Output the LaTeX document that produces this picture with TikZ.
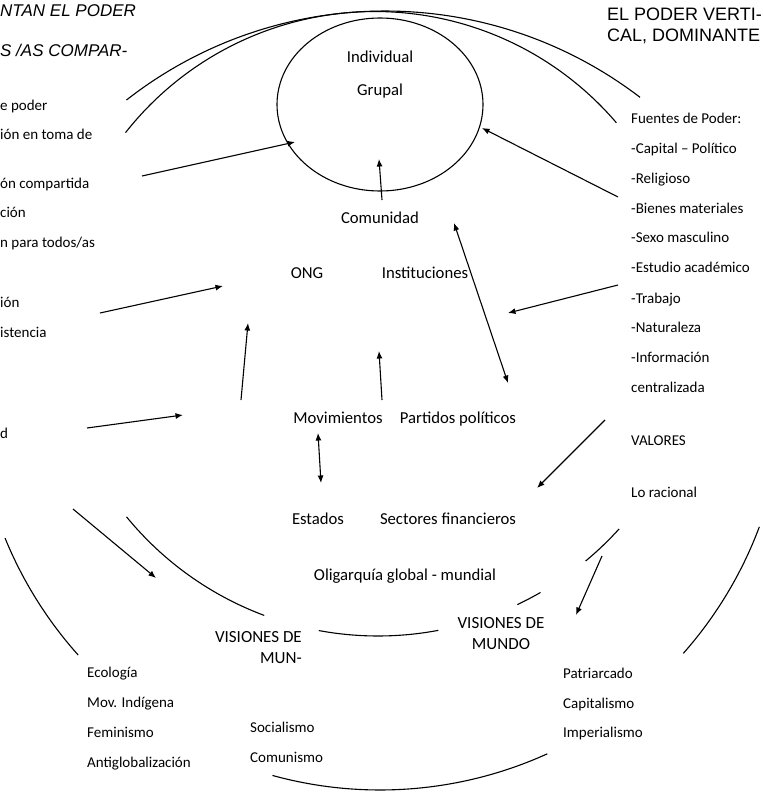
\documentclass[tikz,border=0pt]{standalone}
\usepackage{fontspec}
\setmainfont{Carlito}
\newfontfamily\titlefont{Liberation Sans}
\usetikzlibrary{arrows.meta,shapes.geometric}

\begin{document}
\begin{tikzpicture}[x=1pt,y=1pt,yscale=-1,
  txt/.style={font=\fontsize{16.7}{20}\selectfont,text height=11.7pt,text depth=0pt},
  lst/.style={font=\fontsize{15}{18}\selectfont,text height=10.5pt,text depth=0pt,anchor=west},
  vis/.style={font=\fontsize{17}{20}\selectfont,text height=11.6pt,text depth=0pt},
  ttl/.style={font=\titlefont\fontsize{18}{22}\selectfont,text height=12.9pt,text depth=0pt,anchor=west},
  ttli/.style={font=\titlefont\itshape\fontsize{17}{21}\selectfont,text height=12.2pt,text depth=0pt,anchor=west},
  arr/.style={-{Latex[length=7.5pt,width=6pt]},line width=1.1pt},
  darr/.style={{Latex[length=7.5pt,width=6pt]}-{Latex[length=7.5pt,width=6pt]},line width=1.1pt},
  arco/.style={line width=1.1pt}]
\tikzstyle{every node}+=[inner sep=0pt]
\useasboundingbox (0,0) rectangle (763,795);

\node[ttli] (titL1) at (0,10) {NTAN EL PODER};
\node[ttli] (titL2) at (0,50.5) {S /AS COMPAR-};
\node[ttl] (titR1) at (607,14) {EL PODER VERTI-};
\node[ttl] (titR2) at (607,35) {CAL, DOMINANTE};

\node[draw,ellipse,line width=1.1pt,minimum width=206pt,minimum height=173pt] (circulo) at (380,104.5) {};
\node[txt] (individual) at (380,57) {Individual};
\node[txt] (grupal) at (380,90) {Grupal};
\node[txt] (comunidad) at (380,218) {Comunidad};
\node[txt] (ong) at (307,273) {ONG};
\node[txt] (instituciones) at (425,273) {Instituciones};
\node[txt] (movimientos) at (338,418) {Movimientos};
\node[txt] (partidos) at (458,418) {Partidos políticos};
\node[txt] (estados) at (318,519) {Estados};
\node[txt] (sectores) at (448,519) {Sectores financieros};
\node[txt] (oligarquia) at (405,575) {Oligarquía global - mundial};
\node[vis,anchor=east] (visL1) at (302,637) {VISIONES DE};
\node[vis,anchor=east] (visL2) at (302,658) {MUN-};
\node[vis] (visR1) at (501,623) {VISIONES DE};
\node[vis] (visR2) at (501,644) {MUNDO};

\node[lst] (l1) at (0,105) {e poder};
\node[lst] (l2) at (0,134) {ión en toma de};
\node[lst] (l3) at (0,183) {ón compartida};
\node[lst] (l4) at (0,212) {ción};
\node[lst] (l5) at (0,242) {n para todos/as};
\node[lst] (l6) at (0,302) {ión};
\node[lst] (l7) at (0,332) {istencia};
\node[lst] (l8) at (0,433) {d};

\node[lst] (f1) at (631,118) {Fuentes de Poder:};
\node[lst] (f2) at (631,148) {-Capital – Político};
\node[lst] (f3) at (631,178) {-Religioso};
\node[lst] (f4) at (631,208) {-Bienes materiales};
\node[lst] (f5) at (631,237) {-Sexo masculino};
\node[lst] (f6) at (631,267) {-Estudio académico};
\node[lst] (f7) at (631,298) {-Trabajo};
\node[lst] (f8) at (631,327) {-Naturaleza};
\node[lst] (f9) at (631,357) {-Información};
\node[lst] (f10) at (631,387) {centralizada};
\node[lst] (valores) at (631,440) {VALORES};
\node[lst] (racional) at (631,492) {Lo racional};

\node[lst] (ecologia) at (87,672) {Ecología};
\node[lst] (indigena) at (87,702) {Mov. Indígena};
\node[lst] (feminismo) at (87,732) {Feminismo};
\node[lst] (antiglob) at (87,762) {Antiglobalización};
\node[lst] (socialismo) at (250,727) {Socialismo};
\node[lst] (comunismo) at (250,757) {Comunismo};
\node[lst] (patriarcado) at (563,673) {Patriarcado};
\node[lst] (capitalismo) at (563,703) {Capitalismo};
\node[lst] (imperialismo) at (563,732) {Imperialismo};

\coordinate (izq1) at (142,176);
\coordinate (circO) at (295,142);
\coordinate (comN) at (382,200);
\coordinate (circS) at (379,159);
\coordinate (der1) at (618,197);
\coordinate (circE) at (482,128);
\coordinate (instD) at (454,223);
\coordinate (partN) at (508,383);
\coordinate (izq2) at (100,313);
\coordinate (ongO) at (223,286);
\coordinate (movO) at (241,400);
\coordinate (ongS) at (248,323);
\coordinate (movC) at (382,400);
\coordinate (instS) at (379,351);
\coordinate (der2) at (618,285);
\coordinate (instE) at (508,313);
\coordinate (izq3) at (87,428);
\coordinate (movW) at (183,415);
\coordinate (movS) at (318,433);
\coordinate (estN) at (321,483);
\coordinate (der3) at (605,420);
\coordinate (secE) at (537,488);
\coordinate (izq4) at (73,509);
\coordinate (visL) at (156,578);
\coordinate (der4) at (602,556);
\coordinate (visR) at (576,615);

\draw[arr] (izq1) -- (circO);
\draw[arr] (comN) -- (circS);
\draw[arr] (der1) -- (circE);
\draw[darr] (instD) -- (partN);
\draw[arr] (izq2) -- (ongO);
\draw[arr] (movO) -- (ongS);
\draw[arr] (movC) -- (instS);
\draw[arr] (der2) -- (instE);
\draw[arr] (izq3) -- (movW);
\draw[darr] (movS) -- (estN);
\draw[arr] (der3) -- (secE);
\draw[arr] (izq4) -- (visL);
\draw[arr] (der4) -- (visR);

\coordinate (cin) at (378,311);
\coordinate (cout) at (380,385);
\coordinate (csup1) at (385,431);
\coordinate (csup2) at (375,329);
\draw[arco] (csup1) ++(232:420) arc[start angle=232,end angle=307.4,radius=420];
\draw[arco] (csup2) ++(218.2:317.5) arc[start angle=218.2,end angle=319.5,radius=317.5];
\draw[arco] (cin) ++(140.7:325) arc[start angle=140.7,end angle=110.5,radius=325];
\draw[arco] (cin) ++(100.5:325) arc[start angle=100.5,end angle=79.3,radius=325];
\draw[arco] (cin) ++(64.6:325) arc[start angle=64.6,end angle=60,radius=325];
\draw[arco] (cin) ++(50.3:325) arc[start angle=50.3,end angle=42.1,radius=325];
\draw[arco] (cout) ++(157.8:405) arc[start angle=157.8,end angle=138.2,radius=405];
\draw[arco] (cout) ++(105.4:405) arc[start angle=105.4,end angle=65.6,radius=405];
\draw[arco] (cout) ++(41.5:405) arc[start angle=41.5,end angle=20.5,radius=405];
\end{tikzpicture}
\end{document}
